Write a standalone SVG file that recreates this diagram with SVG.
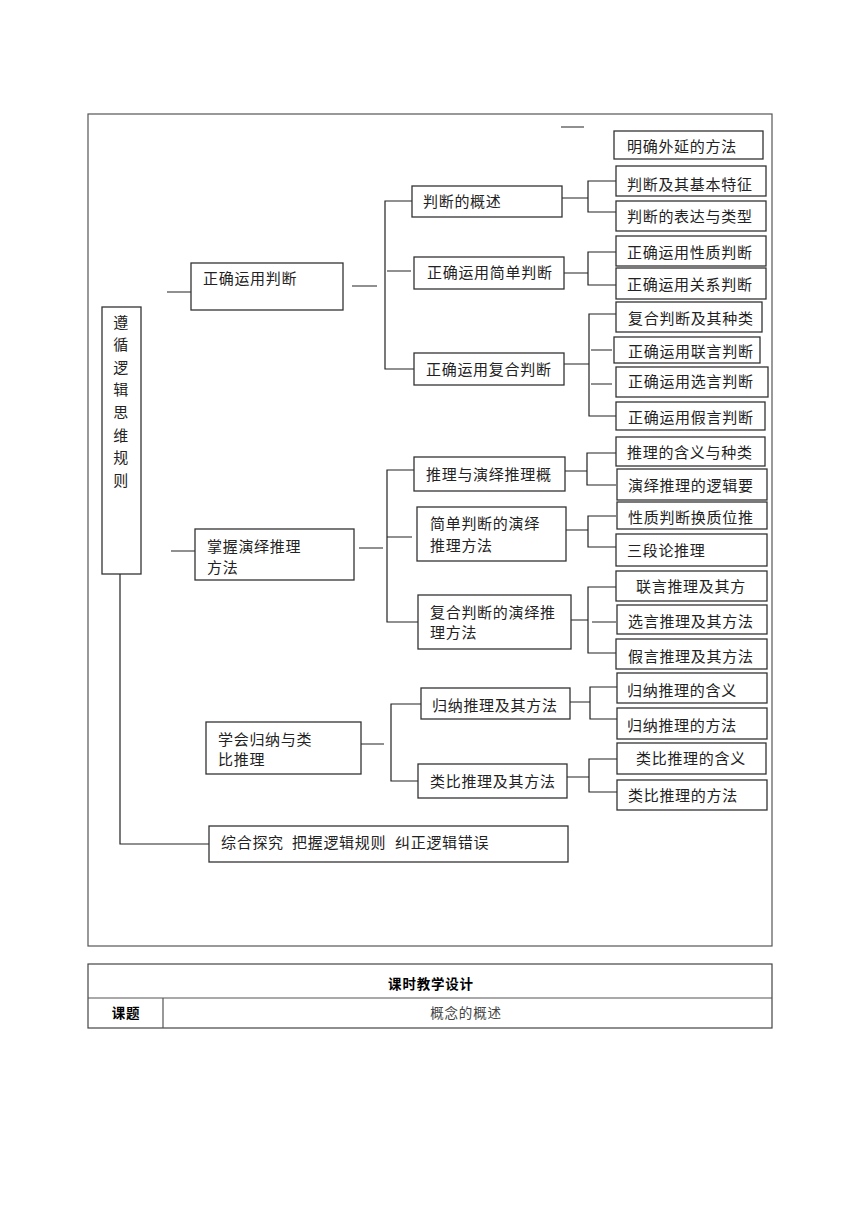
<svg xmlns="http://www.w3.org/2000/svg" width="860" height="1216" viewBox="0 0 860 1216">
<style>
.bx{fill:#fff;stroke:#333;stroke-width:1.3}
.fr{fill:none;stroke:#555;stroke-width:1.2}
.ln{fill:none;stroke:#222;stroke-width:1.2}
text{font-family:"Noto Sans CJK SC","Noto Sans CJK JP",sans-serif;font-size:15px;letter-spacing:0.7px;fill:#222}
.tb{font-size:13.5px;letter-spacing:0.8px}
.b{font-weight:bold;fill:#000}
.g{fill:#444}
</style>
<rect width="860" height="1216" fill="#fff"/>
<rect class="fr" x="88" y="114" width="684" height="832"/>

<g id="connectors">
<path class="ln" d="M120 574V844H209"/>
<path class="ln" d="M167 292H191M171 551H195M352 286H377M561 127H584"/>
<path class="ln" d="M412 201H385V369H414M387 271H411"/>
<path class="ln" d="M562 198H588M616 181H588V212H616"/>
<path class="ln" d="M564 273H588M616 252H588V285H616"/>
<path class="ln" d="M564 364H589M616 314H589V416H616M591 350H612M591 384H612"/>
<path class="ln" d="M359 548H383M414 470H387V622H418M387 537H412"/>
<path class="ln" d="M565 471H587M616 453H587V485H616"/>
<path class="ln" d="M566 530H588M616 516H588V547H616"/>
<path class="ln" d="M571 620H588M616 587H588V653H616M592 622H616"/>
<path class="ln" d="M361 744H384M421 704H391V781H418"/>
<path class="ln" d="M570 702H590M617 687H590V719H617"/>
<path class="ln" d="M567 777H589M617 759H589V792H617"/>
</g>

<g id="root"><rect class="bx" x="102" y="307" width="39" height="267"/>
<text x="121" text-anchor="middle"><tspan x="121" y="328">遵</tspan><tspan x="121" y="350">循</tspan><tspan x="121" y="373">逻</tspan><tspan x="121" y="395">辑</tspan><tspan x="121" y="418">思</tspan><tspan x="121" y="441">维</tspan><tspan x="121" y="463">规</tspan><tspan x="121" y="486">则</tspan></text></g>

<g id="n1"><rect class="bx" x="191" y="263" width="152" height="47"/><text x="203" y="284">正确运用判断</text></g>
<g id="n2"><rect class="bx" x="195" y="529" width="159" height="51"/><text x="207" y="552">掌握演绎推理</text><text x="207" y="573">方法</text></g>
<g id="n3"><rect class="bx" x="206" y="722" width="155" height="52"/><text x="218" y="745">学会归纳与类</text><text x="218" y="765">比推理</text></g>
<g id="n4"><rect class="bx" x="209" y="826" width="359" height="36"/><text y="848"><tspan x="221">综合探究</tspan><tspan x="292">把握逻辑规则</tspan><tspan x="395">纠正逻辑错误</tspan></text></g>

<g id="n11"><rect class="bx" x="412" y="186" width="150" height="31"/><text x="423" y="207">判断的概述</text></g>
<g id="n12"><rect class="bx" x="414" y="257" width="150" height="32"/><text x="427" y="278">正确运用简单判断</text></g>
<g id="n13"><rect class="bx" x="414" y="353" width="150" height="32"/><text x="426" y="375">正确运用复合判断</text></g>
<g id="n21"><rect class="bx" x="414" y="457" width="151" height="34"/><text x="426" y="480">推理与演绎推理概</text></g>
<g id="n22"><rect class="bx" x="417" y="507" width="149" height="54"/><text x="430" y="529">简单判断的演绎</text><text x="430" y="551">推理方法</text></g>
<g id="n23"><rect class="bx" x="418" y="595" width="153" height="54"/><text x="430" y="618">复合判断的演绎推</text><text x="430" y="638">理方法</text></g>
<g id="n31"><rect class="bx" x="421" y="688" width="149" height="31"/><text x="432" y="711">归纳推理及其方法</text></g>
<g id="n32"><rect class="bx" x="418" y="764" width="149" height="34"/><text x="430" y="787">类比推理及其方法</text></g>

<g id="l0"><rect class="bx" x="614" y="131" width="149" height="28"/><text x="627" y="152">明确外延的方法</text></g>
<g id="l1"><rect class="bx" x="616" y="166" width="150" height="30"/><text x="627" y="190">判断及其基本特征</text></g>
<g id="l2"><rect class="bx" x="616" y="201" width="150" height="30"/><text x="627" y="222">判断的表达与类型</text></g>
<g id="l3"><rect class="bx" x="616" y="236" width="150" height="30"/><text x="627" y="258">正确运用性质判断</text></g>
<g id="l4"><rect class="bx" x="616" y="268" width="150" height="31"/><text x="627" y="290">正确运用关系判断</text></g>
<g id="l5"><rect class="bx" x="616" y="302" width="146" height="30"/><text x="628" y="324">复合判断及其种类</text></g>
<g id="l6"><rect class="bx" x="614" y="337" width="146" height="26"/><text x="628" y="357">正确运用联言判断</text></g>
<g id="l7"><rect class="bx" x="616" y="367" width="152" height="30"/><text x="628" y="387">正确运用选言判断</text></g>
<g id="l8"><rect class="bx" x="616" y="402" width="149" height="28"/><text x="628" y="423">正确运用假言判断</text></g>
<g id="l9"><rect class="bx" x="616" y="437" width="149" height="29"/><text x="627" y="458">推理的含义与种类</text></g>
<g id="l10"><rect class="bx" x="617" y="469" width="150" height="31"/><text x="628" y="491">演绎推理的逻辑要</text></g>
<g id="l11"><rect class="bx" x="617" y="502" width="150" height="27"/><text x="628" y="523">性质判断换质位推</text></g>
<g id="l12"><rect class="bx" x="616" y="534" width="151" height="32"/><text x="627" y="556">三段论推理</text></g>
<g id="l13"><rect class="bx" x="616" y="571" width="151" height="30"/><text x="636" y="592">联言推理及其方</text></g>
<g id="l14"><rect class="bx" x="617" y="605" width="150" height="29"/><text x="628" y="627">选言推理及其方法</text></g>
<g id="l15"><rect class="bx" x="616" y="639" width="151" height="30"/><text x="628" y="662">假言推理及其方法</text></g>
<g id="l16"><rect class="bx" x="617" y="673" width="150" height="30"/><text x="627" y="696">归纳推理的含义</text></g>
<g id="l17"><rect class="bx" x="617" y="708" width="150" height="31"/><text x="627" y="731">归纳推理的方法</text></g>
<g id="l18"><rect class="bx" x="617" y="743" width="149" height="31"/><text x="636" y="764">类比推理的含义</text></g>
<g id="l19"><rect class="bx" x="617" y="780" width="150" height="30"/><text x="628" y="801">类比推理的方法</text></g>

<g id="table">
<rect class="fr" x="88" y="964" width="684" height="64" style="stroke:#444"/>
<path class="fr" d="M88 998H772M163 998V1028" style="stroke:#555"/>
<text class="tb b" x="431" y="989" text-anchor="middle">课时教学设计</text>
<text class="tb b" x="126" y="1018" text-anchor="middle">课题</text>
<text class="tb g" x="466" y="1018" text-anchor="middle">概念的概述</text>
</g>
</svg>
